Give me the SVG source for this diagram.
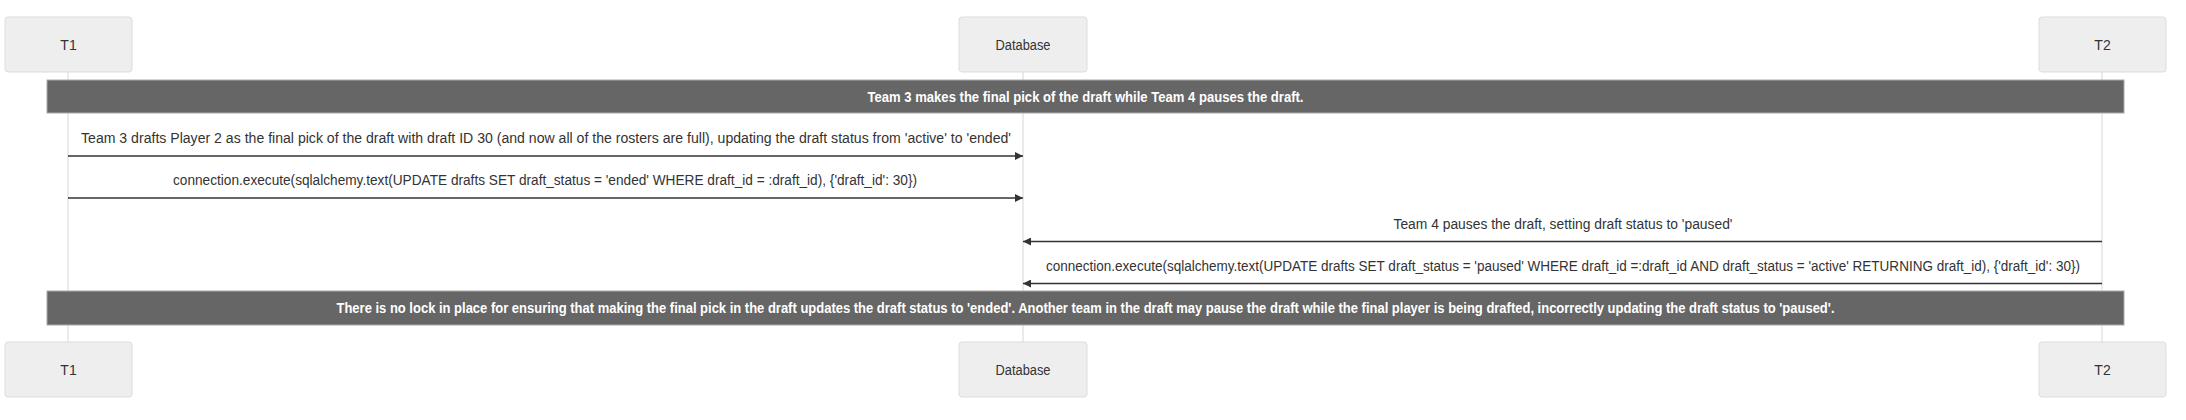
<svg xmlns="http://www.w3.org/2000/svg" width="2186" height="420" viewBox="0 0 2186 420">
<style>
.actor{fill:#eeeeee;stroke:#dddddd;stroke-width:1}
.atext{font-family:"Liberation Sans",Arial,sans-serif;font-size:14px;fill:#333333;text-anchor:middle}
.life{stroke:#d6d6d6;stroke-width:1}
.note{fill:#666666;stroke:#aaaaaa;stroke-width:1}
.ntext{font-family:"Liberation Sans",Arial,sans-serif;font-size:14px;font-weight:bold;fill:#ffffff;text-anchor:middle}
.msg{stroke:#333333;stroke-width:1.6;fill:none}
.mtext{font-family:"Liberation Sans",Arial,sans-serif;font-size:14px;fill:#333333;text-anchor:middle}
</style>
<defs>
<marker id="arrow" viewBox="0 0 10 10" refX="10" refY="5" markerUnits="userSpaceOnUse" markerWidth="9" markerHeight="8" orient="auto">
<path d="M0,0 L10,5 L0,10 z" fill="#333333"/>
</marker>
</defs>
<rect width="2186" height="420" fill="#ffffff"/>
<g id="lifelines">
<line class="life" x1="68" y1="72" x2="68" y2="342"/>
<line class="life" x1="1023" y1="72" x2="1023" y2="342"/>
<line class="life" x1="2102" y1="72" x2="2102" y2="342"/>
</g>
<g id="actor-T1-top"><rect class="actor" x="5" y="17" width="127" height="55" rx="3"/><text class="atext" x="68.5" y="49.5">T1</text></g>
<g id="actor-Database-top"><rect class="actor" x="959" y="17" width="128" height="55" rx="3"/><text class="atext" x="1023" y="49.5" textLength="55" lengthAdjust="spacingAndGlyphs">Database</text></g>
<g id="actor-T2-top"><rect class="actor" x="2039" y="17" width="127" height="55" rx="3"/><text class="atext" x="2102.5" y="49.5">T2</text></g>
<g id="note-1"><rect class="note" x="47" y="80" width="2077" height="33"/><text class="ntext" x="1085.5" y="101.5" textLength="436" lengthAdjust="spacingAndGlyphs">Team 3 makes the final pick of the draft while Team 4 pauses the draft.</text></g>
<g id="connectors">
<line class="msg" x1="68" y1="156" x2="1023" y2="156" marker-end="url(#arrow)"/>
<text class="mtext" x="546" y="142.5" textLength="930" lengthAdjust="spacingAndGlyphs">Team 3 drafts Player 2 as the final pick of the draft with draft ID 30 (and now all of the rosters are full), updating the draft status from 'active' to 'ended'</text>
<line class="msg" x1="68" y1="198" x2="1023" y2="198" marker-end="url(#arrow)"/>
<text class="mtext" x="545" y="185" textLength="744" lengthAdjust="spacingAndGlyphs">connection.execute(sqlalchemy.text(UPDATE drafts SET draft_status = 'ended' WHERE draft_id = :draft_id), {'draft_id': 30})</text>
<line class="msg" x1="2102" y1="241.5" x2="1023" y2="241.5" marker-end="url(#arrow)"/>
<text class="mtext" x="1563" y="228.5" textLength="339" lengthAdjust="spacingAndGlyphs">Team 4 pauses the draft, setting draft status to 'paused'</text>
<line class="msg" x1="2102" y1="283.5" x2="1023" y2="283.5" marker-end="url(#arrow)"/>
<text class="mtext" x="1563" y="271" textLength="1034" lengthAdjust="spacingAndGlyphs">connection.execute(sqlalchemy.text(UPDATE drafts SET draft_status = 'paused' WHERE draft_id =:draft_id AND draft_status = 'active' RETURNING draft_id), {'draft_id': 30})</text>
</g>
<g id="note-2"><rect class="note" x="47" y="291" width="2077" height="34"/><text class="ntext" x="1085.5" y="313" textLength="1498" lengthAdjust="spacingAndGlyphs">There is no lock in place for ensuring that making the final pick in the draft updates the draft status to 'ended'. Another team in the draft may pause the draft while the final player is being drafted, incorrectly updating the draft status to 'paused'.</text></g>
<g id="actor-T1-bottom"><rect class="actor" x="5" y="342" width="127" height="55" rx="3"/><text class="atext" x="68.5" y="374.5">T1</text></g>
<g id="actor-Database-bottom"><rect class="actor" x="959" y="342" width="128" height="55" rx="3"/><text class="atext" x="1023" y="374.5" textLength="55" lengthAdjust="spacingAndGlyphs">Database</text></g>
<g id="actor-T2-bottom"><rect class="actor" x="2039" y="342" width="127" height="55" rx="3"/><text class="atext" x="2102.5" y="374.5">T2</text></g>
</svg>
